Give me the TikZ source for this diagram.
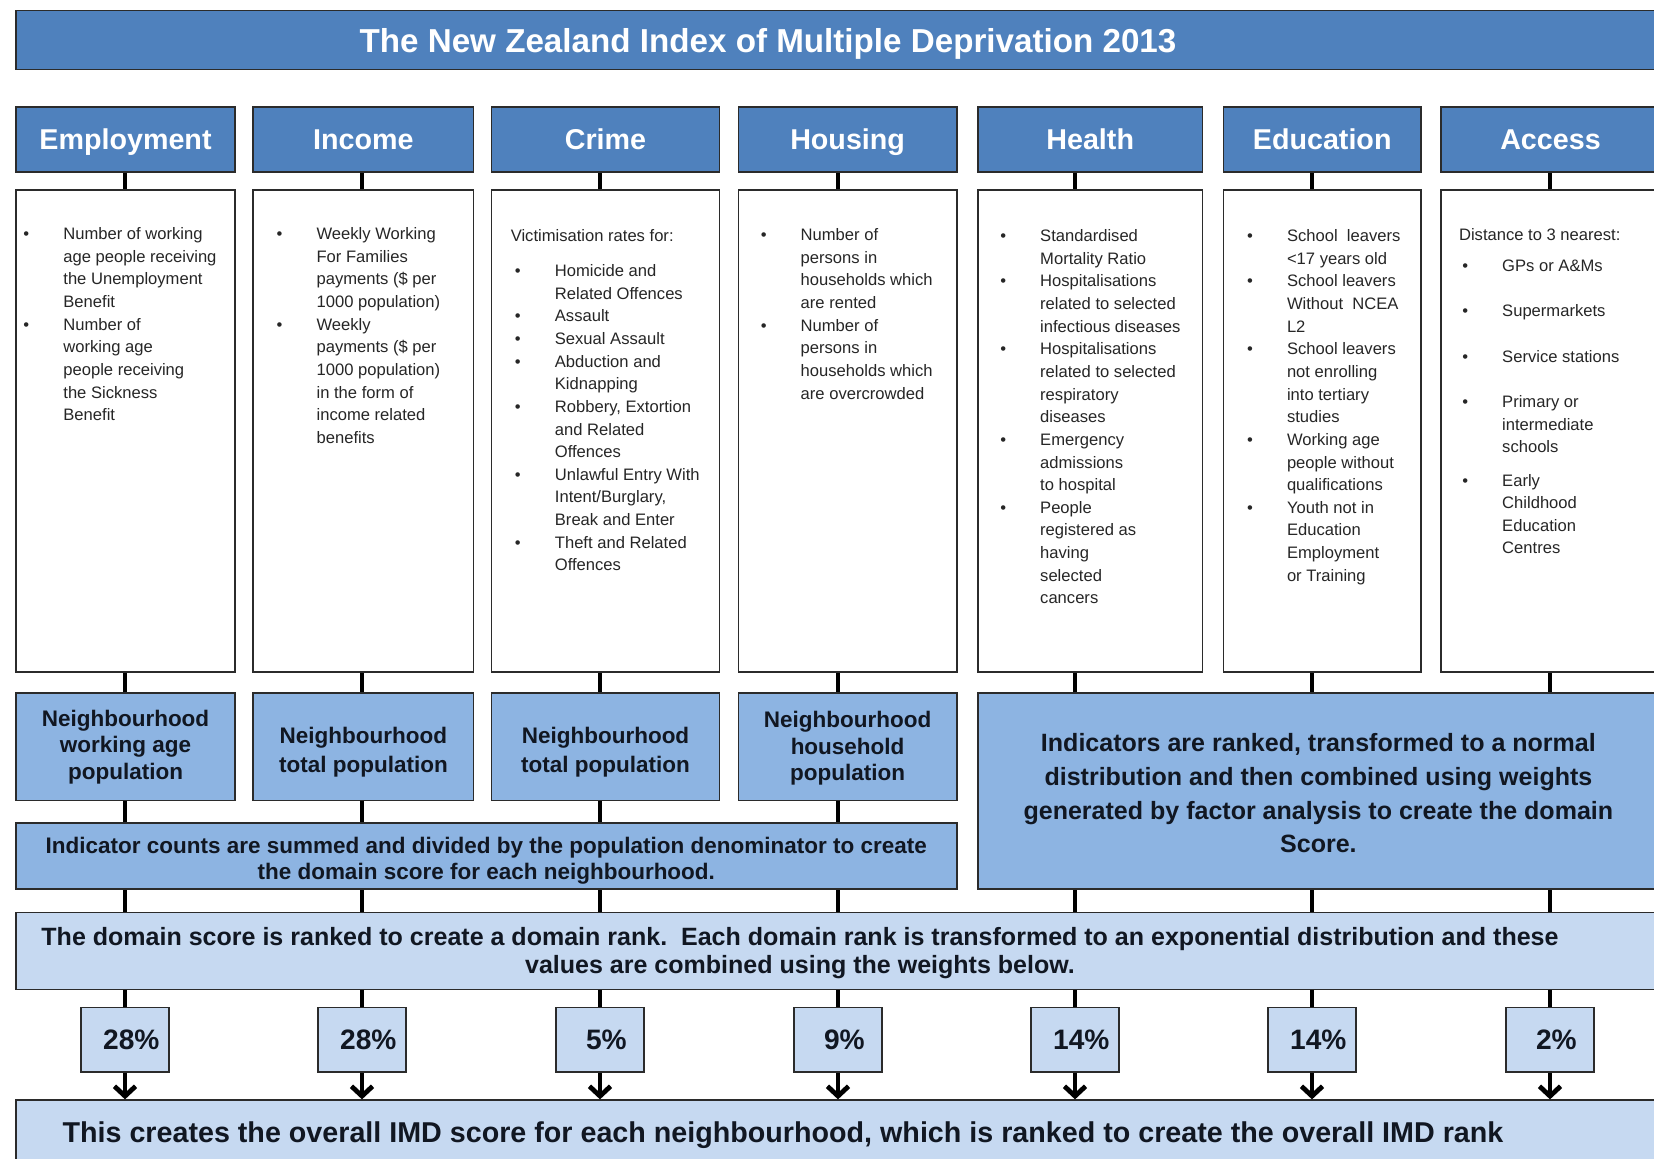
\documentclass[tikz,border=0pt]{standalone}
\usepackage{fontspec}
\setmainfont{Liberation Sans}
\usepackage{xcolor}
\usetikzlibrary{arrows.meta,positioning}

\definecolor{hdrblue}{HTML}{4F81BD}
\definecolor{midblue}{HTML}{8DB4E2}
\definecolor{paleblue}{HTML}{C6D9F1}
\definecolor{edgegray}{HTML}{2B2B2B}
\definecolor{inkc}{HTML}{111722}

\newcommand{\dotb}{\textbullet}
\newcommand{\blist}[1]{\begin{tabular}[t]{@{}p{28.4pt}@{}l@{}}#1\end{tabular}}

\begin{document}
\begin{tikzpicture}[x=0.25mm,y=-0.25mm,
  w/.style={minimum width=#1*0.25mm},
  ht/.style={minimum height=#1*0.25mm},
  box/.style ={draw=edgegray,rectangle,line width=1.2pt,inner sep=0pt,align=center,text=inkc},
  ttl/.style ={box,fill=hdrblue},
  hdr/.style ={box,fill=hdrblue,text=white,ht=64.4,text height=14.2pt,text depth=0pt,
               font=\fontsize{20.4}{24}\selectfont\bfseries},
  cnt/.style ={box,fill=white,ht=482},
  den/.style ={box,fill=midblue,font=\fontsize{16}{18.8}\selectfont\bfseries},
  pale/.style={box,fill=paleblue},
  pct/.style ={box,fill=paleblue,w=88.6,ht=64.3,text height=14pt,text depth=0pt,
               execute at begin node=\hspace*{9pt},
               font=\fontsize{20}{24}\selectfont\bfseries},
  lst/.style ={anchor=base west,inner sep=0pt,text=black!85,font=\fontsize{11.8}{16.1}\selectfont},
  stub/.style={line width=2.6pt,black},
  arr/.style ={stub,line width=2.8pt,
               -{Straight Barb[length=7pt,width=15pt,line width=3.4pt,line join=miter]}}
]
\useasboundingbox (0,0) rectangle (1654,1159);
\clip (0,0) rectangle (1654,1159);

%% Title bar
\node[ttl,w=1649.2,ht=59.1] (title) at (840.4,40) {};
\node[text=white,text height=16.5pt,text depth=0pt,inner sep=0pt,
      font=\fontsize{23.6}{28}\selectfont\bfseries] (titlet) at (768,41)
  {The New Zealand Index of Multiple Deprivation 2013};

%% Column positions of the connectors
\coordinate (k1) at (125,0);  \coordinate (k2) at (362,0);
\coordinate (k3) at (600,0);  \coordinate (k4) at (838,0);
\coordinate (k5) at (1075,0); \coordinate (k6) at (1312,0);
\coordinate (k7) at (1550,0);

%% Domain headers
\node[hdr,w=219.4] (emp) at (125.5,139.5)  {Employment};
\node[hdr,w=220.4] (inc) at (363.4,139.5)  {Income};
\node[hdr,w=227.9] (crm) at (605.5,139.5)  {Crime};
\node[hdr,w=218.3] (hou) at (847.6,139.5)  {Housing};
\node[hdr,w=224.7] (hea) at (1090.2,139.5) {Health};
\node[hdr,w=197.2] (edu) at (1322.2,139.5) {Education};
\node[hdr,w=219]   (acc) at (1550.5,139.5) {Access};

%% Indicator boxes
\node[cnt,w=219.4] (empc) at (125.5,430.9)  {};
\node[cnt,w=220.4] (incc) at (363.4,430.9)  {};
\node[cnt,w=227.9] (crmc) at (605.5,430.9)  {};
\node[cnt,w=218.3] (houc) at (847.6,430.9)  {};
\node[cnt,w=224.7] (heac) at (1090.2,430.9) {};
\node[cnt,w=197.2] (educ) at (1322.2,430.9) {};
\node[cnt,w=219]   (accc) at (1550.5,430.9) {};

\node[lst] (empt) at (23.2,239.6) {\blist{%
  \dotb & Number of working\\ & age people receiving\\ & the Unemployment\\ & Benefit\\
  \dotb & Number of\\ & working age\\ & people receiving\\ & the Sickness\\ & Benefit}};
\node[lst] (inct) at (276.4,239.6) {\blist{%
  \dotb & Weekly Working\\ & For Families\\ & payments (\$ per\\ & 1000 population)\\
  \dotb & Weekly\\ & payments (\$ per\\ & 1000 population)\\ & in the form of\\
        & income related\\ & benefits}};
\node[lst] (crmt) at (514.7,241.7) {\blist{%
  \multicolumn{2}{@{\hspace{-3pt}}l@{}}{Victimisation rates for:}\\[8.7pt]
  \dotb & Homicide and\\ & Related Offences\\
  \dotb & Assault\\
  \dotb & Sexual Assault\\
  \dotb & Abduction and\\ & Kidnapping\\
  \dotb & Robbery, Extortion\\ & and Related\\ & Offences\\
  \dotb & Unlawful Entry With\\ & Intent/Burglary,\\ & Break and Enter\\
  \dotb & Theft and Related\\ & Offences}};
\node[lst] (hout) at (760.5,240.7) {\blist{%
  \dotb & Number of\\ & persons in\\ & households which\\ & are rented\\
  \dotb & Number of\\ & persons in\\ & households which\\ & are overcrowded}};
\node[lst] (heat) at (1000,241.7) {\blist{%
  \dotb & Standardised\\ & Mortality Ratio\\
  \dotb & Hospitalisations\\ & related to selected\\ & infectious diseases\\
  \dotb & Hospitalisations\\ & related to selected\\ & respiratory\\ & diseases\\
  \dotb & Emergency\\ & admissions\\ & to hospital\\
  \dotb & People\\ & registered as\\ & having\\ & selected\\ & cancers}};
\node[lst] (edut) at (1246.8,241.7) {\blist{%
  \dotb & School\ \ leavers\\ & <17 years old\\
  \dotb & School leavers\\ & Without\ \ NCEA\\ & L2\\
  \dotb & School leavers\\ & not enrolling\\ & into tertiary\\ & studies\\
  \dotb & Working age\\ & people without\\ & qualifications\\
  \dotb & Youth not in\\ & Education\\ & Employment\\ & or Training}};
\node[lst] (acct) at (1462,240.7) {\blist{%
  \multicolumn{2}{@{\hspace{-2.3pt}}l@{}}{Distance to 3 nearest:}\\[5.9pt]
  \dotb & GPs or A\&Ms\\[16.1pt]
  \dotb & Supermarkets\\[16.1pt]
  \dotb & Service stations\\[16.1pt]
  \dotb & Primary or\\ & intermediate\\ & schools\\[7.6pt]
  \dotb & Early\\ & Childhood\\ & Education\\ & Centres}};

%% Denominators and domain scores
\node[den,w=219.4,ht=107.6] (empd) at (125.5,746.8) {Neighbourhood\\working age\\population};
\node[den,w=220.4,ht=107.6] (incd) at (363.4,746.8) {\rule{0pt}{19pt}Neighbourhood\\[1.5pt]total population};
\node[den,w=227.9,ht=107.6] (crmd) at (605.5,746.8) {\rule{0pt}{19pt}Neighbourhood\\[1.5pt]total population};
\node[den,w=218.3,ht=107.6] (houd) at (847.6,746.8) {\rule{0pt}{14pt}Neighbourhood\\household\\population};
\node[den,w=681.2,ht=196.2,font=\fontsize{17.8}{24}\selectfont\bfseries] (rank) at (1318.4,791.1)
  {\rule{0pt}{16pt}Indicators are ranked, transformed to a normal\\distribution and then combined using weights\\
   generated by factor analysis to create the domain\\Score.};
\node[den,w=940.9,ht=66.5,font=\fontsize{16}{18.5}\selectfont\bfseries] (cnts) at (486.25,856)
  {\rule{0pt}{19pt}Indicator counts are summed and divided by the population denominator to create\\
   the domain score for each neighbourhood.};

%% Combination of the domains
\node[pale,w=1649.2,ht=77] (score) at (840.4,950.9) {};
\node[text=inkc,align=center,font=\fontsize{17.8}{20.3}\selectfont\bfseries] (scoret) at (800,953)
  {The domain score is ranked to create a domain rank.\ \ Each domain rank is transformed to an exponential distribution and these\\
   values are combined using the weights below.};

\node[pct] (p1) at (k1 |- 0,1039.6) {28\%};
\node[pct] (p2) at (k2 |- 0,1039.6) {28\%};
\node[pct] (p3) at (k3 |- 0,1039.6) {5\%};
\node[pct] (p4) at (k4 |- 0,1039.6) {9\%};
\node[pct] (p5) at (k5 |- 0,1039.6) {14\%};
\node[pct] (p6) at (k6 |- 0,1039.6) {14\%};
\node[pct] (p7) at (k7 |- 0,1039.6) {2\%};

\node[pale,w=1649.2,ht=80] (imd) at (840.4,1140.2) {};
\node[text=inkc,font=\fontsize{20.4}{24}\selectfont\bfseries] (imdt) at (783,1135)
  {This creates the overall IMD score for each neighbourhood, which is ranked to create the overall IMD rank};

%% Connectors
\draw[stub] (emp.south -| k1) -- (empc.north -| k1) (empc.south -| k1) -- (empd.north -| k1)
            (empd.south -| k1) -- (cnts.north -| k1) (cnts.south -| k1) -- (score.north -| k1)
            (score.south -| k1) -- (p1.north);
\draw[stub] (inc.south -| k2) -- (incc.north -| k2) (incc.south -| k2) -- (incd.north -| k2)
            (incd.south -| k2) -- (cnts.north -| k2) (cnts.south -| k2) -- (score.north -| k2)
            (score.south -| k2) -- (p2.north);
\draw[stub] (crm.south -| k3) -- (crmc.north -| k3) (crmc.south -| k3) -- (crmd.north -| k3)
            (crmd.south -| k3) -- (cnts.north -| k3) (cnts.south -| k3) -- (score.north -| k3)
            (score.south -| k3) -- (p3.north);
\draw[stub] (hou.south -| k4) -- (houc.north -| k4) (houc.south -| k4) -- (houd.north -| k4)
            (houd.south -| k4) -- (cnts.north -| k4) (cnts.south -| k4) -- (score.north -| k4)
            (score.south -| k4) -- (p4.north);
\draw[stub] (hea.south -| k5) -- (heac.north -| k5) (heac.south -| k5) -- (rank.north -| k5)
            (rank.south -| k5) -- (score.north -| k5) (score.south -| k5) -- (p5.north);
\draw[stub] (edu.south -| k6) -- (educ.north -| k6) (educ.south -| k6) -- (rank.north -| k6)
            (rank.south -| k6) -- (score.north -| k6) (score.south -| k6) -- (p6.north);
\draw[stub] (acc.south -| k7) -- (accc.north -| k7) (accc.south -| k7) -- (rank.north -| k7)
            (rank.south -| k7) -- (score.north -| k7) (score.south -| k7) -- (p7.north);

%% Weighted arrows into the overall score
\draw[arr] (p1.south) -- (imd.north -| p1);
\draw[arr] (p2.south) -- (imd.north -| p2);
\draw[arr] (p3.south) -- (imd.north -| p3);
\draw[arr] (p4.south) -- (imd.north -| p4);
\draw[arr] (p5.south) -- (imd.north -| p5);
\draw[arr] (p6.south) -- (imd.north -| p6);
\draw[arr] (p7.south) -- (imd.north -| p7);
\end{tikzpicture}
\end{document}
